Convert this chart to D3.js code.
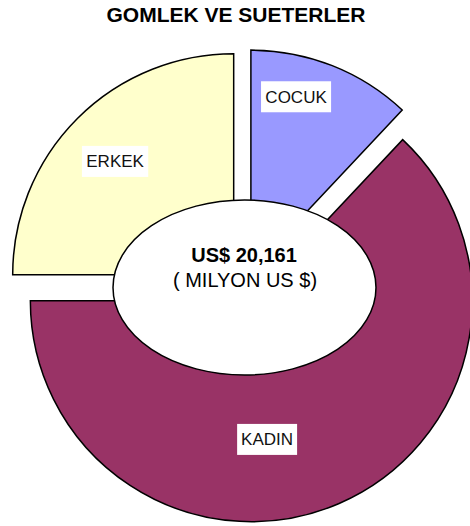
<!DOCTYPE html>
<html>
<head>
<meta charset="utf-8">
<script src="https://cdn.jsdelivr.net/npm/d3@7"></script>
<style>
  body { margin: 0; background: #fff; }
  text { font-family: "Liberation Sans", Arial, sans-serif; }
</style>
</head>
<body>
<svg id="chart" width="470" height="526"></svg>
<script>
const categories = ["COCUK", "KADIN", "ERKEK"];
const values = [2420, 12700, 5041];
const colors = ["#9999ff", "#993366", "#ffffcc"];
const title = "GOMLEK VE SUETERLER";
const totalLabel = "US$ 20,161";
const unitLabel = "( MILYON US $)";

const svg = d3.select('#chart');

const cx = 245, cy = 286, R = 221, EXPLODE = 16;

svg.append('text')
  .attr('x', 236).attr('y', 22)
  .attr('text-anchor', 'middle')
  .style('font-size', '21px').style('font-weight', 'bold')
  .text(title);

const data = categories.map((c, i) => ({ name: c, value: values[i], color: colors[i] }));

const pie = d3.pie().value(d => d.value).sort(null);
const arc = d3.arc().innerRadius(0).outerRadius(R);
const arcs = pie(data);

const g = svg.append('g').attr('transform', `translate(${cx},${cy})`);

g.selectAll('path.slice').data(arcs)
  .enter().append('path')
  .attr('class', 'slice')
  .attr('d', arc)
  .attr('transform', d => {
    const a = (d.startAngle + d.endAngle) / 2;
    return `translate(${Math.sin(a) * EXPLODE},${-Math.cos(a) * EXPLODE})`;
  })
  .attr('fill', d => d.data.color)
  .attr('stroke', '#000')
  .attr('stroke-width', 1.5)
  .attr('stroke-linejoin', 'miter');

// centre hole
g.append('ellipse')
  .attr('cx', -0.5).attr('cy', 1.5)
  .attr('rx', 131.5).attr('ry', 87.5)
  .attr('fill', '#fff')
  .attr('stroke', '#000')
  .attr('stroke-width', 1.5);

g.append('text')
  .attr('x', -1).attr('y', -24)
  .attr('text-anchor', 'middle')
  .style('font-size', '20px').style('font-weight', 'bold')
  .text(totalLabel);

g.append('text')
  .attr('x', 0).attr('y', 1)
  .attr('text-anchor', 'middle')
  .style('font-size', '20px')
  .text(unitLabel);

// label placement: angle (deg) and distance from pie centre
const labelSpot = { COCUK: [15.1, 196], KADIN: [171.8, 155], ERKEK: [313.8, 180] };

const labels = g.selectAll('g.label').data(arcs)
  .enter().append('g')
  .attr('class', 'label')
  .attr('transform', d => {
    const [deg, r] = labelSpot[d.data.name];
    const a = deg * Math.PI / 180;
    return `translate(${Math.sin(a) * r},${-Math.cos(a) * r})`;
  });

labels.append('rect').attr('fill', '#fff');
labels.append('text')
  .attr('text-anchor', 'middle')
  .attr('y', 6)
  .style('font-size', '17px')
  .attr('fill', '#111')
  .text(d => d.data.name);

labels.each(function () {
  const t = d3.select(this).select('text').node().getBBox();
  d3.select(this).select('rect')
    .attr('x', -t.width / 2 - 4).attr('y', -15.5)
    .attr('width', t.width + 8).attr('height', 31);
});
</script>
</body>
</html>
